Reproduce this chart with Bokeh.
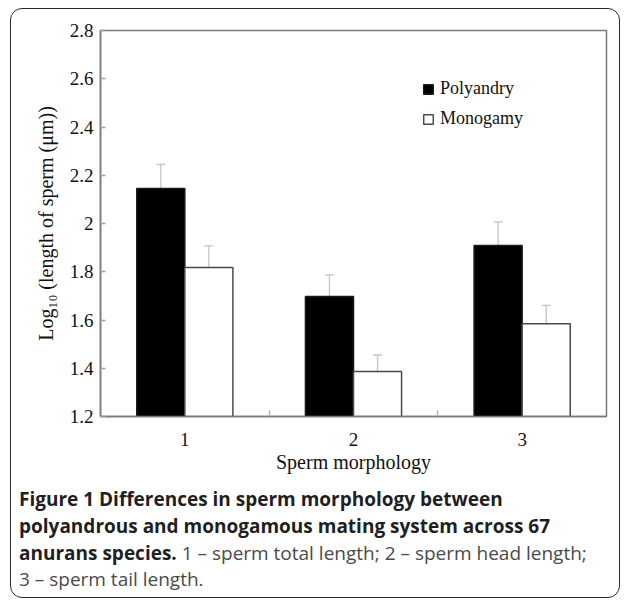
from bokeh.plotting import figure
from bokeh.layouts import column
from bokeh.models import (Range1d, FixedTicker, Legend, LegendItem, Div,
                          Whisker, TeeHead, ColumnDataSource)
from bokeh.embed import file_html
from bokeh.resources import INLINE

# ---------------- data ----------------
categories = ["1", "2", "3"]
polyandry = [2.145, 1.697, 1.909]
polyandry_err = [0.100, 0.090, 0.098]
monogamy = [1.818, 1.387, 1.584]
monogamy_err = [0.089, 0.068, 0.077]
y_ticks = [1.2, 1.4, 1.6, 1.8, 2.0, 2.2, 2.4, 2.6, 2.8]
y_tick_labels = ["1.2", "1.4", "1.6", "1.8", "2", "2.2", "2.4", "2.6", "2.8"]
series_names = ["Polyandry", "Monogamy"]
x_label = "Sperm morphology"
y_label = "Log\u2081\u2080 (length of sperm (\u03bcm))"
caption_bold_1 = "Figure 1 Differences in sperm morphology between"
caption_bold_2 = "polyandrous and monogamous mating system across 67"
caption_bold_3 = "anurans species."
caption_reg_3 = "1 \u2013 sperm total length; 2 \u2013 sperm head length;"
caption_reg_4 = "3 \u2013 sperm tail length."

# ---------------- layout constants ----------------
W, H_PLOT, H_CAP = 625, 480, 120
FRAME_L, FRAME_T, FRAME_R, FRAME_B = 100, 30, 606, 416   # page pixels
SERIF = "Liberation Serif"
SANS = "Open Sans"
bar_w = 0.285
off = bar_w / 2

xpos = [i + 1 for i in range(len(categories))]
src = ColumnDataSource(dict(
    xp=[x - off for x in xpos],
    xm=[x + off for x in xpos],
    poly=polyandry,
    poly_up=[v + e for v, e in zip(polyandry, polyandry_err)],
    mono=monogamy,
    mono_lo=[v - e for v, e in zip(monogamy, monogamy_err)],
    mono_up=[v + e for v, e in zip(monogamy, monogamy_err)],
))

p = figure(width=W, height=H_PLOT, output_backend="svg", toolbar_location=None,
           x_range=Range1d(0.5, len(categories) + 0.5),
           y_range=Range1d(y_ticks[0], y_ticks[-1]),
           min_border_left=FRAME_L, min_border_right=W - FRAME_R,
           min_border_top=FRAME_T, min_border_bottom=H_PLOT - FRAME_B)
p.margin = 0
p.xgrid.visible = False
p.ygrid.visible = False
p.outline_line_color = "#7a7a7a"
p.outline_line_width = 1.5
p.background_fill_color = "white"
p.border_fill_color = "white"

base = y_ticks[0]
r_poly = p.vbar(x="xp", top="poly", bottom=base, width=bar_w, source=src,
                fill_color="black", line_color="#1a1a1a", line_width=1.5)
r_mono = p.vbar(x="xm", top="mono", bottom=base, width=bar_w, source=src,
                fill_color="white", line_color="#4a4a4a", line_width=1.5)

err_col = "#c4c4c4"
p.add_layout(Whisker(base="xp", lower="poly", upper="poly_up", source=src,
                     line_color=err_col, line_width=1.3,
                     upper_head=TeeHead(size=9, line_color=err_col, line_width=1.3),
                     lower_head=None))
p.add_layout(Whisker(base="xm", lower="mono_lo", upper="mono_up", source=src,
                     line_color=err_col, line_width=1.3,
                     upper_head=TeeHead(size=9, line_color=err_col, line_width=1.3),
                     lower_head=TeeHead(size=9, line_color=err_col, line_width=1.3)))

# axes
ax = p.xaxis[0]
ax.ticker = FixedTicker(ticks=xpos, minor_ticks=[x + 0.5 for x in xpos[:-1]])
ax.major_label_overrides = {x: c for x, c in zip(xpos, categories)}
ax.major_tick_line_color = None
ax.minor_tick_in = 6
ax.minor_tick_out = 0
ax.minor_tick_line_color = "#b0b0b0"
ax.minor_tick_line_width = 1.3
ax.axis_line_color = "#7a7a7a"
ax.axis_line_width = 1.5
ax.major_label_text_font = SERIF
ax.major_label_text_font_size = "19px"
ax.major_label_text_color = "#111111"
ax.major_label_standoff = 10
ax.axis_label = x_label
ax.axis_label_text_font = SERIF
ax.axis_label_text_font_size = "20px"
ax.axis_label_text_font_style = "normal"
ax.axis_label_text_color = "#111111"
ax.axis_label_standoff = 2

ay = p.yaxis[0]
ay.ticker = FixedTicker(ticks=y_ticks, minor_ticks=[])
ay.major_label_overrides = {t: l for t, l in zip(y_ticks, y_tick_labels)}
ay.major_tick_in = 5
ay.major_tick_out = 0
ay.major_tick_line_color = "#a0a0a0"
ay.major_tick_line_width = 1.3
ay.axis_line_color = "#7a7a7a"
ay.axis_line_width = 1.5
ay.major_label_text_font = SERIF
ay.major_label_text_font_size = "19px"
ay.major_label_text_color = "#111111"
ay.major_label_standoff = 7
ay.axis_label = y_label
ay.axis_label_text_font = SERIF
ay.axis_label_text_font_size = "20px"
ay.axis_label_text_font_style = "normal"
ay.axis_label_text_color = "#111111"
ay.axis_label_standoff = 10

# legend
legend = Legend(items=[LegendItem(label=series_names[0], renderers=[r_poly]),
                       LegendItem(label=series_names[1], renderers=[r_mono])],
                location=(422 - FRAME_L, FRAME_B - 129),
                glyph_width=12, glyph_height=12, label_standoff=6, spacing=9,
                label_height=20, padding=0, margin=0,
                border_line_color=None, background_fill_alpha=0,
                label_text_font=SERIF, label_text_font_size="18px",
                label_text_color="#111111")
p.add_layout(legend)

# caption below the chart + rounded outer frame
fs = 19
lh = 26
asc = (lh - 1.362 * fs) / 2 + 1.069 * fs      # baseline offset inside a line box
baselines = [506.7, 533.3, 560.0, 586.7]       # page pixels
tops = [b - H_PLOT - asc for b in baselines]
bold_c, reg_c = "#1f1f1f", "#4a4a4a"
line_css = (f"position:absolute; left:19px; white-space:nowrap; font-family:'{SANS}'; "
            f"font-size:{fs}px; line-height:{lh}px; margin:0; padding:0;")
lines = [
    f"<div style=\"{line_css} top:{tops[0]:.1f}px; color:{bold_c}; font-weight:bold;\">{caption_bold_1}</div>",
    f"<div style=\"{line_css} top:{tops[1]:.1f}px; color:{bold_c}; font-weight:bold;\">{caption_bold_2}</div>",
    f"<div style=\"{line_css} top:{tops[2]:.1f}px; color:{reg_c};\"><b style=\"color:{bold_c}\">{caption_bold_3}</b> {caption_reg_3}</div>",
    f"<div style=\"{line_css} top:{tops[3]:.1f}px; color:{reg_c};\">{caption_reg_4}</div>",
]
frame_css = ("position:fixed; left:10px; top:8px; width:610px; height:590px; box-sizing:border-box; "
             "border:1.5px solid #2a2a2a; border-radius:12px; pointer-events:none;")
html = (f"<div style=\"position:relative; width:{W}px; height:{H_CAP}px; margin:0; padding:0;\">"
        + "".join(lines) + f"<div style=\"{frame_css}\"></div></div>")
cap = Div(text=html, width=W, height=H_CAP, margin=0)

layout = column(p, cap, spacing=0)
open("out.html", "w").write(file_html(layout, INLINE))
